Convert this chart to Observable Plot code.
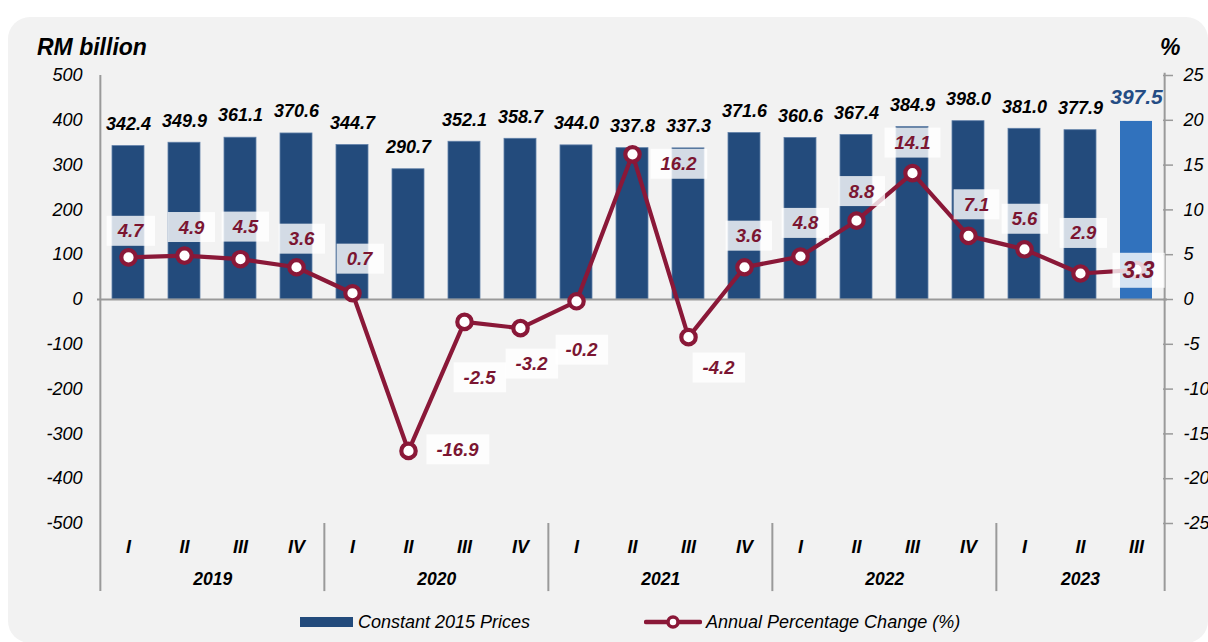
<!DOCTYPE html>
<html>
<head>
<meta charset="utf-8">
<script src="https://cdn.jsdelivr.net/npm/d3@7"></script>
<script src="https://cdn.jsdelivr.net/npm/@observablehq/plot@0.6"></script>
<style>
html, body { margin: 0; padding: 0; background: #ffffff; }
#wrap { position: relative; width: 1208px; height: 642px; overflow: hidden;
  font-family: "Liberation Sans", Arial, sans-serif; font-style: italic; color: #000; }
#panel { position: absolute; left: 8px; top: 17px; width: 1200px; height: 626px;
  background: #f2f2f2; border-radius: 22px; }
#chart { position: absolute; left: 0; top: 0; }
.ttl { position: absolute; font-weight: bold; font-size: 23px; line-height: 1; }
.lg { position: absolute; font-size: 18px; line-height: 1; white-space: nowrap; }
</style>
</head>
<body>
<div id="wrap">
  <div id="panel"></div>
  <div id="chart"></div>
  <div class="ttl" id="ttlL" style="left:37px; top:36px;"></div>
  <div class="ttl" id="ttlR" style="left:1160px; top:36px;"></div>
  <div id="lg1sw" style="position:absolute; left:300px; top:617px; width:53px; height:10px; background:#234b7c;"></div>
  <div class="lg" id="lg1" style="left:358px; top:613px;"></div>
  <svg style="position:absolute; left:644px; top:612px;" width="58" height="20">
    <line x1="2" y1="10" x2="56" y2="10" stroke="#8a1838" stroke-width="4.5" stroke-linecap="round"></line>
    <circle cx="29" cy="10" r="5" fill="#ffffff" stroke="#8a1838" stroke-width="3.5"></circle>
  </svg>
  <div class="lg" id="lg2" style="left:706px; top:613px;"></div>
</div>
<script>
// ---- data ----
const years = ["2019", "2020", "2021", "2022", "2023"];
const barYears = ["2019","2019","2019","2019","2020","2020","2020","2020","2021","2021","2021","2021","2022","2022","2022","2022","2023","2023","2023"];
const quarters = ["I","II","III","IV","I","II","III","IV","I","II","III","IV","I","II","III","IV","I","II","III"];
const gdp = [342.4, 349.9, 361.1, 370.6, 344.7, 290.7, 352.1, 358.7, 344.0, 337.8, 337.3, 371.6, 360.6, 367.4, 384.9, 398.0, 381.0, 377.9, 397.5];
const pct = [4.7, 4.9, 4.5, 3.6, 0.7, -16.9, -2.5, -3.2, -0.2, 16.2, -4.2, 3.6, 4.8, 8.8, 14.1, 7.1, 5.6, 2.9, 3.3];
const leftTicks = [500, 400, 300, 200, 100, 0, -100, -200, -300, -400, -500];
const rightTicks = [25, 20, 15, 10, 5, 0, -5, -10, -15, -20, -25];
const titleLeft = "RM billion";
const titleRight = "%";
const legendLabels = ["Constant 2015 Prices", "Annual Percentage Change (%)"];

// ---- layout (styling only) ----
const W = 1208, H = 600, ML = 97, MR = 41, MT = 75, MB = 77;
const K = 500 / 25; // right-axis (%) to left-axis units
const NAVY = "#234b7c", LIGHT = "#3172bd", RED = "#8a1838", LABELRED = "#7b1531", GRAY = "#9a9a9a";
// label offsets (px) for percentage labels, relative to their point
const pctLabelOffsets = [[2,-26],[7,-28],[5,-32],[5,-28],[7,-34],[49,-1],[15,56],[11,36],[5,49],[46,10],[30,31],[4,-31],[5,-33],[5,-29],[0,-30],[8,-31],[0,-30],[3,-40],[2,1]];

document.getElementById("ttlL").textContent = titleLeft;
document.getElementById("ttlR").textContent = titleRight;
document.getElementById("lg1").textContent = legendLabels[0];
document.getElementById("lg2").textContent = legendLabels[1];

const keys = quarters.map((q, i) => barYears[i] + " " + q);
const rows = keys.map((key, i) => ({key, q: quarters[i], year: barYears[i], gdp: gdp[i], pct: pct[i], last: i === keys.length - 1}));
const step = (W - ML - MR) / keys.length;

const boundaries = years.slice(1).map(y => y + " I");
const fullYears = years.filter(y => barYears.filter(b => b === y).length === 4).map(y => ({year: y, key: y + " II"}));
const partYears = years.filter(y => barYears.filter(b => b === y).length === 3).map(y => ({year: y, key: y + " II"}));

const pctLabelMarks = rows.map((d, i) => Plot.text([d], {
  x: "key", y: r => r.pct * K, text: r => r.pct.toFixed(1),
  dx: pctLabelOffsets[i][0], dy: pctLabelOffsets[i][1],
  fill: LABELRED, fontWeight: "bold", fontSize: d.last ? 23 : 18.5
}));

const chart = Plot.plot({
  width: W, height: H,
  marginLeft: ML, marginRight: MR, marginTop: MT, marginBottom: MB,
  style: {fontFamily: "'Liberation Sans', Arial, sans-serif", fontStyle: "italic", background: "transparent", overflow: "visible", color: "#000"},
  x: {domain: keys, paddingInner: 0.43, paddingOuter: 0.215, label: null},
  y: {domain: [-500, 500], label: null},
  marks: [
    Plot.barY(rows.filter(d => !d.last), {x: "key", y: "gdp", fill: NAVY, stroke: "#5f7fa8", strokeWidth: 0.8}),
    Plot.barY(rows.filter(d => d.last), {x: "key", y: "gdp", fill: LIGHT}),
    Plot.ruleY([0], {stroke: GRAY, strokeWidth: 2}),
    Plot.ruleX(boundaries, {x: d => d, dx: -step / 2, y1: -500, y2: -652, stroke: GRAY, strokeWidth: 2}),
    Plot.ruleX([keys[0]], {x: d => d, dx: -step / 2, y1: 500, y2: -652, stroke: GRAY, strokeWidth: 2}),
    Plot.ruleX([keys[keys.length - 1]], {x: d => d, dx: step / 2, y1: 505, y2: -652, stroke: GRAY, strokeWidth: 2}),
    Plot.axisY(leftTicks, {anchor: "left", tickSize: 0, tickPadding: 15, tickFormat: d => String(d), fontSize: 18}),
    Plot.axisY(rightTicks.map(v => v * K), {anchor: "right", tickSize: 10, dx: -5, tickPadding: 11, tickFormat: d => String(d / K), stroke: GRAY, strokeWidth: 1.5, fontSize: 18}),
    Plot.axisX({tickSize: 0, tickPadding: 17, tickFormat: key => key.split(" ")[1], fontWeight: "bold", fontSize: 18}),
    Plot.text(fullYears, {x: "key", y: -500, dy: 56, dx: step / 2, text: "year", fontWeight: "bold", fontSize: 17.5}),
    Plot.text(partYears, {x: "key", y: -500, dy: 56, text: "year", fontWeight: "bold", fontSize: 17.5}),
    Plot.line(rows, {x: "key", y: d => d.pct * K, stroke: RED, strokeWidth: 4.2}),
    Plot.dot(rows, {x: "key", y: d => d.pct * K, r: 7.2, fill: "white", stroke: RED, strokeWidth: 4.2}),
    Plot.text(rows.filter(d => !d.last), {x: "key", y: "gdp", text: d => d.gdp.toFixed(1), dy: -22, fontWeight: "bold", fontSize: 18, fill: "#000"}),
    Plot.text(rows.filter(d => d.last), {x: "key", y: "gdp", text: d => d.gdp.toFixed(1), dy: -24, fontWeight: "bold", fontSize: 21, fill: "#244c84"}),
    ...pctLabelMarks
  ]
});
document.getElementById("chart").appendChild(chart);

// white translucent boxes behind the percentage labels
const NS = "http://www.w3.org/2000/svg";
const labelTexts = Array.from(chart.querySelectorAll("text")).filter(t => {
  const g = t.closest("g");
  return g && (g.getAttribute("fill") || "").toLowerCase() === LABELRED;
});
labelTexts.forEach(t => {
  const b = t.getBBox();
  const r = document.createElementNS(NS, "rect");
  r.setAttribute("x", b.x - 10);
  r.setAttribute("y", b.y - 4.5);
  r.setAttribute("width", b.width + 20);
  r.setAttribute("height", b.height + 9);
  r.setAttribute("fill", "#ffffff");
  r.setAttribute("fill-opacity", "0.8");
  r.setAttribute("stroke", "none");
  const tr = t.getAttribute("transform");
  if (tr) r.setAttribute("transform", tr);
  t.parentNode.insertBefore(r, t);
});
</script>
</body>
</html>
